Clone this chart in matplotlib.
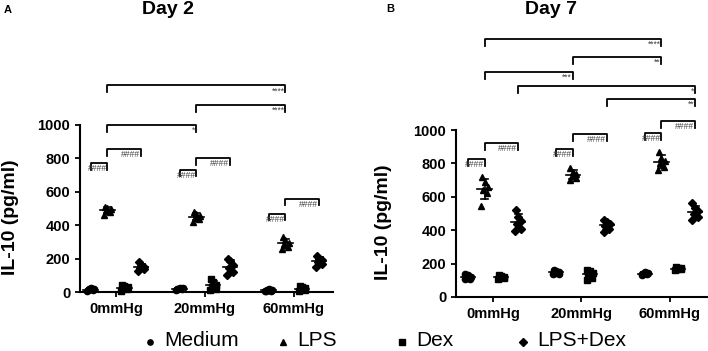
import matplotlib
matplotlib.use('Agg')
import matplotlib.pyplot as plt
from matplotlib.lines import Line2D
import numpy as np

plt.rcParams['font.family'] = ['Liberation Sans', 'DejaVu Sans']

# Grupos e tratamentos
pressoes = ['0mmHg', '20mmHg', '60mmHg']
tratamentos = ['Medium', 'LPS', 'Dex', 'LPS+Dex']
marcadores = ['o', '^', 's', 'D']

# IL-10 (pg/ml) - dia 2, pontos individuais por pressão
d2_medium = [[8, 12, 15, 18, 22, 10], [10, 15, 20, 22, 25, 18], [5, 8, 10, 12, 15, 8]]
d2_lps = [[462, 478, 488, 495, 503, 510], [420, 435, 445, 455, 470, 480], [255, 270, 285, 295, 310, 330]]
d2_dex = [[8, 15, 22, 28, 35, 40], [10, 20, 30, 40, 60, 80], [8, 12, 18, 22, 30, 35]]
d2_lpsdex = [[125, 135, 145, 150, 160, 180], [100, 120, 145, 160, 185, 200], [150, 165, 180, 190, 200, 215]]

# IL-10 (pg/ml) - dia 7
d7_medium = [[105, 110, 115, 120, 130, 135], [135, 140, 145, 150, 155, 160], [130, 135, 140, 145, 150, 140]]
d7_lps = [[545, 620, 640, 660, 690, 720], [700, 710, 725, 735, 750, 770], [760, 780, 800, 815, 830, 870]]
d7_dex = [[110, 115, 120, 122, 128, 132], [100, 115, 135, 145, 155, 160], [160, 165, 170, 172, 175, 180]]
d7_lpsdex = [[395, 410, 440, 455, 480, 520], [390, 410, 425, 435, 450, 460], [460, 480, 500, 515, 535, 560]]

# Comparações: (grupo a, tratamento a, grupo b, tratamento b, altura, rótulo)
comp_d2 = [(0, 1, 2, 1, 1238, '****'), (1, 1, 2, 1, 1119, '****'), (0, 1, 1, 1, 1000, '*'),
           (0, 0, 0, 1, 773, '####'), (0, 1, 0, 3, 857, '####'),
           (1, 0, 1, 1, 732, '####'), (1, 1, 1, 3, 803, '####'),
           (2, 0, 2, 1, 470, '####'), (2, 1, 2, 3, 559, '####')]
comp_d7 = [(0, 1, 2, 1, 1545, '****'), (1, 1, 2, 1, 1437, '**'), (0, 1, 1, 1, 1347, '***'),
           (0, 3, 2, 3, 1264, '*'), (1, 3, 2, 3, 1186, '**'),
           (0, 0, 0, 1, 826, '####'), (0, 1, 0, 3, 922, '####'),
           (1, 0, 1, 1, 886, '####'), (1, 1, 1, 3, 976, '####'),
           (2, 0, 2, 1, 982, '####'), (2, 1, 2, 3, 1054, '####')]

passo = 0.19
espalhar = np.array([-0.035, 0.03, -0.015, 0.035, 0.0, -0.03])


def posx(g, t):
    return g + (t - 1.5) * passo


def painel(ax, series, comps):
    for t, dados in enumerate(series):
        for g, vals in enumerate(dados):
            x0 = posx(g, t)
            vals = np.array(vals)
            ax.plot(x0 + espalhar, vals, marcadores[t], color='black', ms=4.5, clip_on=False, zorder=3)
            m, sd = vals.mean(), vals.std(ddof=1)
            ax.plot([x0 - 0.08, x0 + 0.08], [m, m], color='black', lw=1.2, zorder=4)
            ax.plot([x0, x0], [m - sd, m + sd], color='black', lw=1.2, zorder=4)
            for yy in (m - sd, m + sd):
                ax.plot([x0 - 0.04, x0 + 0.04], [yy, yy], color='black', lw=1.2, zorder=4)
    # colchetes de significância
    for ga, ta, gb, tb, h, rot in comps:
        xa, xb = posx(ga, ta), posx(gb, tb)
        ax.plot([xa, xa, xb, xb], [h - 40, h, h, h - 40], color='black', lw=1.3, clip_on=False)
        ax.text(xb - 0.01, h - 6, rot, ha='right', va='top', fontsize=6.2, color='#444444', clip_on=False)

    ax.set_ylim(0, 1000)
    ax.set_yticks([0, 200, 400, 600, 800, 1000])
    ax.set_xticks(range(3))
    ax.set_xticklabels(pressoes)
    for s in ['top', 'right']:
        ax.spines[s].set_visible(False)
    for s in ['left', 'bottom']:
        ax.spines[s].set_linewidth(1.5)
    ax.tick_params(width=1.3, length=3.5, labelsize=10.5)
    for lab in ax.get_xticklabels() + ax.get_yticklabels():
        lab.set_fontweight('bold')
    ax.set_ylabel('IL-10 (pg/ml)', fontsize=14, fontweight='bold')


fig = plt.figure(figsize=(7.08, 3.51), dpi=100)

ax1 = fig.add_axes([80 / 708, 1 - 292 / 351, 253 / 708, 167 / 351])
painel(ax1, [d2_medium, d2_lps, d2_dex, d2_lpsdex], comp_d2)
ax1.set_xlim(-0.404, 2.44)
ax1.yaxis.set_label_coords(-0.24, 0.45)

ax2 = fig.add_axes([456 / 708, 1 - 297 / 351, 251 / 708, 167 / 351])
painel(ax2, [d7_medium, d7_lps, d7_dex, d7_lpsdex], comp_d7)
ax2.set_xlim(-0.418, 2.42)
ax2.yaxis.set_label_coords(-0.255, 0.45)

fig.text(168 / 708, 1 - 9 / 351, 'Day 2', ha='center', va='center', fontsize=14, fontweight='bold')
fig.text(551 / 708, 1 - 9 / 351, 'Day 7', ha='center', va='center', fontsize=14, fontweight='bold')
fig.text(8 / 708, 1 - 10 / 351, 'A', ha='center', va='center', fontsize=8, fontweight='bold')
fig.text(390 / 708, 1 - 9 / 351, 'B', ha='center', va='center', fontsize=8, fontweight='bold')

# legenda feita à mão
leg_x = [150, 283, 402, 523]
for xm, m, nome in zip(leg_x, marcadores, tratamentos):
    fig.add_artist(Line2D([xm / 708], [1 - 342 / 351], marker=m, color='black', ls='none', ms=3.8,
                          transform=fig.transFigure))
    fig.text((xm + 14) / 708, 1 - 341 / 351, nome, ha='left', va='center', fontsize=15)

fig.savefig('out.png', dpi=100)
